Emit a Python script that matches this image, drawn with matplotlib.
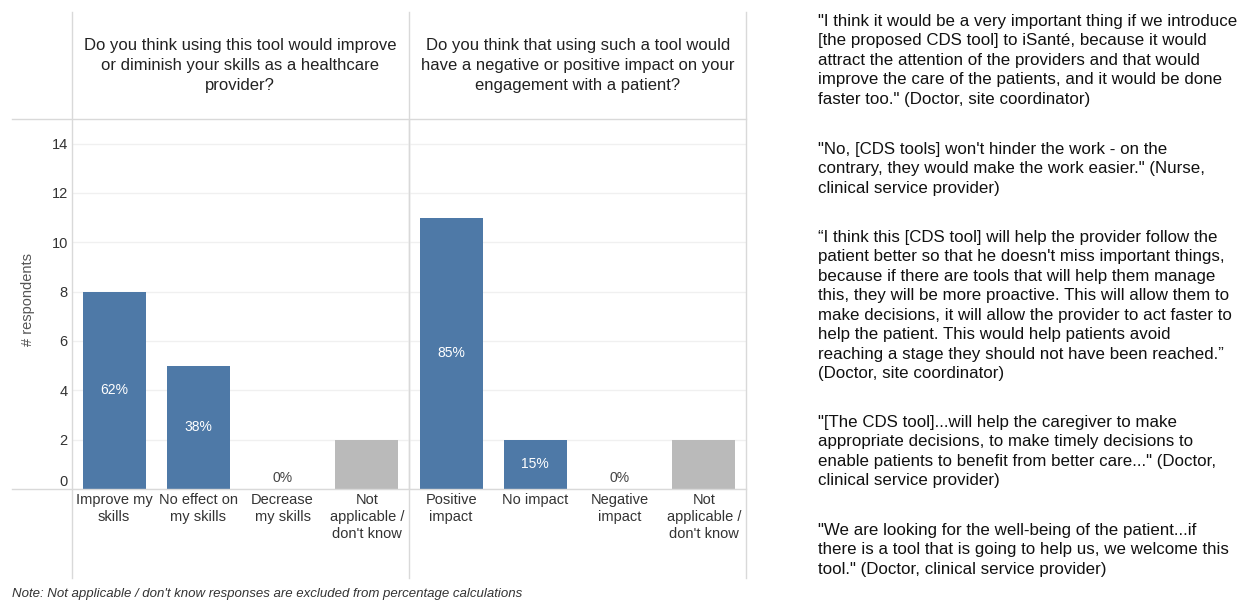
import matplotlib
matplotlib.use("Agg")
import matplotlib.pyplot as plt
from matplotlib.lines import Line2D

plt.rcParams["font.family"] = ["Liberation Sans", "DejaVu Sans"]

# data
categories = [
    "Improve my\nskills", "No effect on\nmy skills", "Decrease\nmy skills", "Not\napplicable /\ndon't know",
    "Positive\nimpact", "No impact", "Negative\nimpact", "Not\napplicable /\ndon't know",
]
respondents = [8, 5, 0, 2, 11, 2, 0, 2]
pct_labels = ["62%", "38%", "0%", None, "85%", "15%", "0%", None]
is_na = [False, False, False, True, False, False, False, True]
yticks = [0, 2, 4, 6, 8, 10, 12, 14]

headers = [
    "Do you think using this tool would improve\nor diminish your skills as a healthcare\nprovider?",
    "Do you think that using such a tool would\nhave a negative or positive impact on your\nengagement with a patient?",
]

quotes = [
    "\"I think it would be a very important thing if we introduce\n[the proposed CDS tool] to iSanté, because it would\n"
    "attract the attention of the providers and that would\nimprove the care of the patients, and it would be done\n"
    "faster too.\" (Doctor, site coordinator)",
    "\"No, [CDS tools] won't hinder the work - on the\ncontrary, they would make the work easier.\" (Nurse,\n"
    "clinical service provider)",
    "\u201cI think this [CDS tool] will help the provider follow the\npatient better so that he doesn't miss important things,\n"
    "because if there are tools that will help them manage\nthis, they will be more proactive. This will allow them to\n"
    "make decisions, it will allow the provider to act faster to\nhelp the patient. This would help patients avoid\n"
    "reaching a stage they should not have been reached.\u201d\n(Doctor, site coordinator)",
    "\"[The CDS tool]...will help the caregiver to make\nappropriate decisions, to make timely decisions to\n"
    "enable patients to benefit from better care...\" (Doctor,\nclinical service provider)",
    "\"We are looking for the well-being of the patient...if\nthere is a tool that is going to help us, we welcome this\n"
    "tool.\" (Doctor, clinical service provider)",
]
quote_tops = [14, 142, 230, 415, 523]

note = "Note: Not applicable / don't know responses are excluded from percentage calculations"

BLUE = "#4e79a7"
GRAY = "#bababa"
LINE = "#d9d9d9"

W, H = 1239, 601
fig = plt.figure(figsize=(W / 100, H / 100), dpi=100)


def fx(px):
    return px / W


def fy(py):
    return 1 - py / H


ax = fig.add_axes([fx(72), fy(489), fx(746) - fx(72), fy(119) - fy(489)])
x = list(range(len(categories)))
colors = [GRAY if n else BLUE for n in is_na]
ax.bar(x, respondents, width=0.75, color=colors, zorder=3)

for xi, v, lab in zip(x, respondents, pct_labels):
    if lab is None:
        continue
    if v > 0:
        ax.text(xi, v / 2, lab, ha="center", va="center", color="white", fontsize=10, zorder=4)
    else:
        ax.text(xi, 0.15, lab, ha="center", va="bottom", color="#444444", fontsize=10, zorder=4)

ax.set_xlim(-0.5, len(categories) - 0.5)
ax.set_ylim(0, 15)
ax.set_yticks(yticks)
ax.set_yticklabels([str(t) for t in yticks])
ax.set_xticks(x)
ax.set_xticklabels(categories, linespacing=1.25)
ax.tick_params(axis="both", length=0, labelsize=10.5, colors="#333333")
ax.tick_params(axis="y", pad=3)
ax.tick_params(axis="x", pad=3)
ax.get_yticklabels()[0].set_verticalalignment("bottom")
for s in ax.spines.values():
    s.set_visible(False)
ax.grid(axis="y", color="#f0f0f0", linewidth=1, zorder=0)
ax.axvline(3.5, color=LINE, linewidth=1, zorder=1)
ax.set_facecolor("none")

# frame lines
for px in [72, 409, 746]:
    fig.add_artist(Line2D([fx(px), fx(px)], [fy(12), fy(578)], color=LINE, linewidth=1))
for py in [119, 489]:
    fig.add_artist(Line2D([fx(12), fx(746)], [fy(py), fy(py)], color=LINE, linewidth=1))

fig.text(fx(240), fy(65.5), headers[0], ha="center", va="center", fontsize=12, color="#222222", linespacing=1.43)
fig.text(fx(578), fy(65.5), headers[1], ha="center", va="center", fontsize=12, color="#222222", linespacing=1.43)

fig.text(fx(28), fy(300), "# respondents", rotation=90, ha="center", va="center", fontsize=10.5, color="#555555")

for q, top in zip(quotes, quote_tops):
    fig.text(fx(818), fy(top), q, ha="left", va="top", fontsize=12.2, color="#111111", linespacing=1.37)

fig.text(fx(12), fy(594), note, ha="left", va="center", fontsize=9.5, style="italic", color="#333333")

fig.savefig("out.png", dpi=100)
